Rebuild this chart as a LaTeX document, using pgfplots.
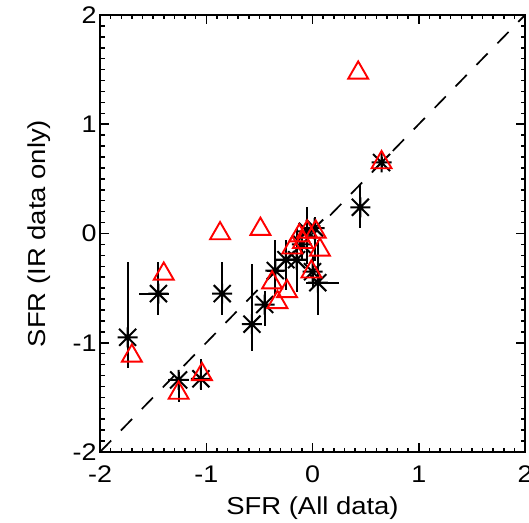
\documentclass[border=0pt]{standalone}
\usepackage{fontspec}
\setmainfont{Liberation Sans}[FakeStretch=1.12]
\usepackage{pgfplots}
\pgfplotsset{compat=1.18}
\usepackage{pgfplotstable}

\pgfdeclareplotmark{ast8}{%
  \pgfpathmoveto{\pgfpoint{-\pgfplotmarksize}{0pt}}\pgfpathlineto{\pgfpoint{\pgfplotmarksize}{0pt}}%
  \pgfpathmoveto{\pgfpoint{0pt}{-\pgfplotmarksize}}\pgfpathlineto{\pgfpoint{0pt}{\pgfplotmarksize}}%
  \pgfpathmoveto{\pgfpoint{-0.85\pgfplotmarksize}{-0.85\pgfplotmarksize}}\pgfpathlineto{\pgfpoint{0.85\pgfplotmarksize}{0.85\pgfplotmarksize}}%
  \pgfpathmoveto{\pgfpoint{-0.85\pgfplotmarksize}{0.85\pgfplotmarksize}}\pgfpathlineto{\pgfpoint{0.85\pgfplotmarksize}{-0.85\pgfplotmarksize}}%
  \pgfusepathqstroke}

\pgfplotstableread{
x y exp exm eyp eym
-1.74 -0.95 0 0 0.69 0.28
-1.45 -0.55 0.10 0.18 0.29 0.20
-0.85 -0.55 0 0 0.29 0.20
-0.57 -0.83 0 0 0.55 0.25
-0.45 -0.65 0 0 0.12 0.20
-0.35 -0.34 0.08 0.08 0.28 0.23
-0.25 -0.24 0.10 0.10 0.18 0.28
-0.15 -0.24 0.10 0.10 0.29 0.30
-0.10 -0.10 0 0 0.15 0.15
-0.05 0.02 0 0 0.22 0.30
0.02 0.05 0 0 0.10 0.30
0.00 -0.35 0 0 0.15 0.15
0.05 -0.45 0.20 0.11 0.39 0.30
0.45 0.24 0 0 0.20 0.19
0.65 0.65 0 0 0.05 0.05
-1.26 -1.34 0.10 0.10 0.07 0.20
-1.05 -1.33 0.05 0.05 0.18 0.10
}\blackdata

\pgfplotstableread{
x y
-1.70 -1.12
-1.40 -0.37
-0.87 0.00
-0.49 0.04
0.43 1.47
0.65 0.65
-1.26 -1.46
-1.04 -1.29
-0.38 -0.45
-0.24 -0.53
-0.33 -0.63
-0.01 -0.35
0.07 -0.15
-0.19 -0.13
-0.125 -0.02
-0.09 -0.08
-0.05 0.015
0.03 0.015
}\reddata

\begin{document}
\begin{tikzpicture}
\begin{axis}[
  scale only axis, width=425pt, height=437pt,
  xmin=-2, xmax=2, ymin=-2, ymax=2,
  xtick={-2,-1,0,1,2}, ytick={-2,-1,0,1,2},
  yticklabels={-2,-1,0,1,\raisebox{-8pt}{2}},
  minor x tick num=9, minor y tick num=9,
  tick align=inside, xtick pos=both, ytick pos=both,
  major tick length=9pt, minor tick length=4.5pt,
  every tick/.style={black, line width=1.5pt},
  axis line style={line width=1.9pt},
  /pgf/number format/assume math mode=true,
  tick label style={font=\fontsize{24}{26}\selectfont},
  xticklabel style={yshift=-10pt},
  xlabel={SFR (All data)}, ylabel={SFR (IR data only)},
  label style={font=\fontsize{24.5}{28}\selectfont},
  xlabel style={at={(axis description cs:0.5,-0.1419)}, anchor=base},
  ylabel style={at={(axis description cs:-0.1294,0.5)}, anchor=base},
]
\addplot[black, line width=1.7pt, dash pattern=on 16pt off 14pt] coordinates {(-2,-2) (2,2)};
\addplot[only marks, mark=ast8, mark size=10pt, black, line width=2pt,
  error bars/.cd, x dir=both, x explicit, y dir=both, y explicit, error mark=none,
  error bar style={line width=2pt, black}]
  table[x=x, y=y, x error plus=exp, x error minus=exm, y error plus=eyp, y error minus=eym]{\blackdata};
\addplot[only marks, mark=triangle, mark size=11.5pt, red, line width=1.9pt] table[x=x,y=y]{\reddata};
\end{axis}
\pgfresetboundingbox
\path[use as bounding box] ([xshift=-100pt,yshift=-70pt]current axis.south west) rectangle ([xshift=4pt,yshift=15pt]current axis.north east);
\end{tikzpicture}
\end{document}
